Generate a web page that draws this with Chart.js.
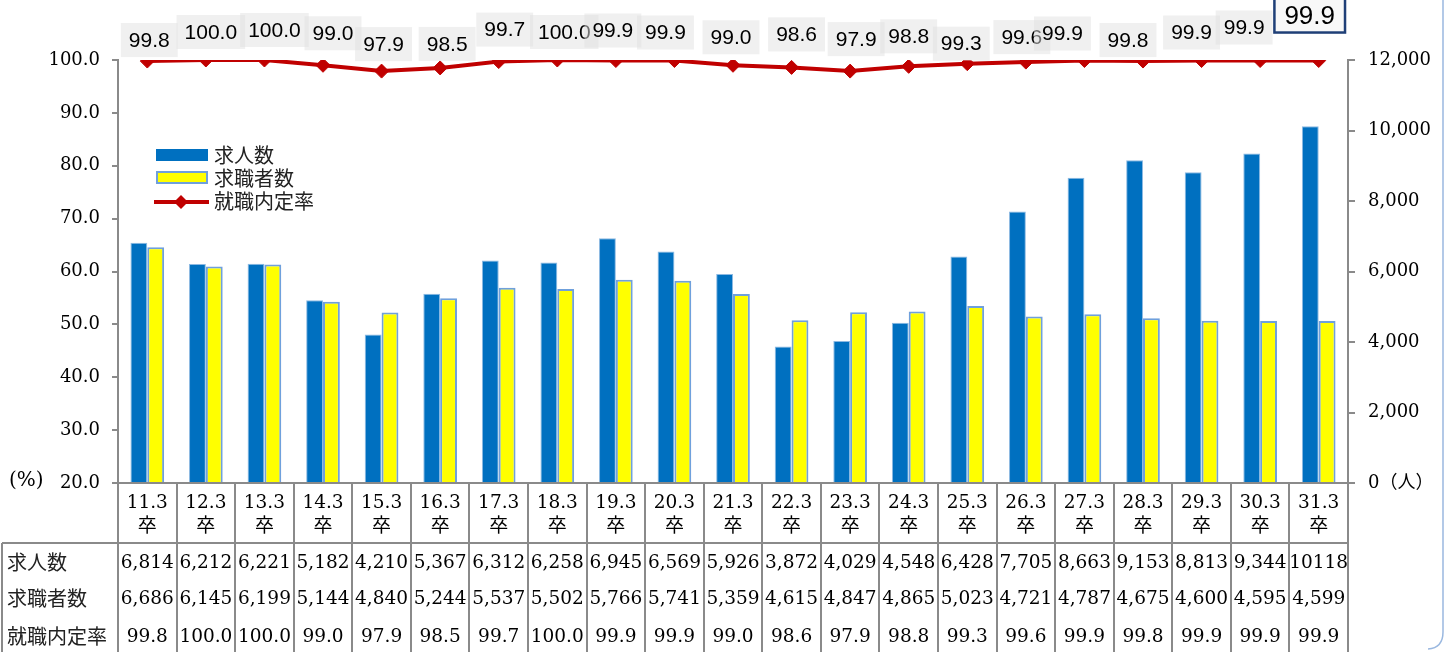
<!DOCTYPE html>
<html>
<head>
<meta charset="utf-8">
<script src="https://cdn.jsdelivr.net/npm/chart.js@4.4.0/dist/chart.umd.min.js"></script>
<style>
  html, body { margin: 0; padding: 0; background: #fff; }
  #wrap { width: 1448px; height: 652px; position: relative; }
</style>
</head>
<body>
<div id="wrap"><canvas id="chart" width="1448" height="652"></canvas></div>
<script>
// Data
var categories = ['11.3', '12.3', '13.3', '14.3', '15.3', '16.3', '17.3', '18.3', '19.3', '20.3', '21.3',
                  '22.3', '23.3', '24.3', '25.3', '26.3', '27.3', '28.3', '29.3', '30.3', '31.3'];
var jobOffers = [6814, 6212, 6221, 5182, 4210, 5367, 6312, 6258, 6945, 6569, 5926,
                 3872, 4029, 4548, 6428, 7705, 8663, 9153, 8813, 9344, 10118];
var jobSeekers = [6686, 6145, 6199, 5144, 4840, 5244, 5537, 5502, 5766, 5741, 5359,
                  4615, 4847, 4865, 5023, 4721, 4787, 4675, 4600, 4595, 4599];
var offerRate = [99.8, 100.0, 100.0, 99.0, 97.9, 98.5, 99.7, 100.0, 99.9, 99.9, 99.0,
                 98.6, 97.9, 98.8, 99.3, 99.6, 99.9, 99.8, 99.9, 99.9, 99.9];
var leftTicks = [20, 30, 40, 50, 60, 70, 80, 90, 100];
var rightTicks = [0, 2000, 4000, 6000, 8000, 10000, 12000];

// label nudges (px) so the rate labels sit like in the original
var labelShift = [[2, -21], [5, -28], [10, -30], [10, -32], [2, -27], [7, -24], [6, -32], [7, -28],
                  [-3, -30], [-9, -28], [-2, -28], [5, -33], [6, -32], [0, -30], [-6, -20], [-4, -25],
                  [-22, -27], [-15, -21], [-10, -28], [-16, -33], [-9, -45]];

var SERIF = '"DejaVu Serif", serif';
var JP = '"Noto Sans CJK JP", sans-serif';
var GRID = '#8a8a8a';

function fmtNum(n) {
    // the original table squeezes 10118 without a separator
    return n >= 10000 ? String(n) : n.toLocaleString('en-US');
}

// Rate labels with grey boxes
var rateLabels = {
    id: 'rateLabels',
    afterDatasetsDraw: function(chart) {
        var ctx = chart.ctx;
        var meta = chart.getDatasetMeta(0);
        ctx.save();
        ctx.textAlign = 'center';
        ctx.textBaseline = 'middle';
        meta.data.forEach(function(pt, i) {
            var last = i === meta.data.length - 1;
            var txt = offerRate[i].toFixed(1);
            var cx = pt.x + labelShift[i][0];
            var cy = pt.y + labelShift[i][1];
            ctx.font = (last ? '26px' : '21px') + ' "Liberation Sans", Arial, sans-serif';
            var w = ctx.measureText(txt).width + (last ? 20 : 16);
            var h = 34;
            if (last) {
                ctx.fillStyle = '#f8f8f8';
                ctx.fillRect(cx - w / 2, cy - h / 2, w, h);
                ctx.strokeStyle = '#1f3f77';
                ctx.lineWidth = 2.5;
                ctx.strokeRect(cx - w / 2, cy - h / 2, w, h);
            } else {
                ctx.fillStyle = 'rgba(225,225,225,0.5)';
                ctx.fillRect(cx - w / 2, cy - h / 2, w, h);
            }
            ctx.fillStyle = '#000';
            ctx.fillText(txt, cx, cy + 1);
        });
        ctx.restore();
    }
};

// Data table, legend, unit labels and frame
var tableAndLegend = {
    id: 'tableAndLegend',
    afterDraw: function(chart) {
        var ctx = chart.ctx;
        var x = chart.scales.x;
        var area = chart.chartArea;
        var catW = x.getPixelForValue(1) - x.getPixelForValue(0);
        var top = area.bottom;
        var headBottom = top + 60;
        var bottom = 652;
        ctx.save();

        // grid of the table
        ctx.strokeStyle = GRID;
        ctx.lineWidth = 2;
        ctx.beginPath();
        for (var i = 0; i <= categories.length; i++) {
            var bx = Math.round(x.getPixelForValue(0) - catW / 2 + i * catW);
            ctx.moveTo(bx, top);
            ctx.lineTo(bx, bottom);
        }
        ctx.moveTo(2, headBottom);
        ctx.lineTo(area.right, headBottom);
        ctx.moveTo(2, headBottom);
        ctx.lineTo(2, bottom);
        ctx.stroke();

        // header: category labels
        ctx.fillStyle = '#000';
        ctx.textAlign = 'center';
        ctx.textBaseline = 'middle';
        categories.forEach(function(c, i) {
            var cx = x.getPixelForValue(i);
            ctx.font = '18.5px ' + SERIF;
            ctx.fillText(c, cx, top + 20);
            ctx.font = '19px ' + JP;
            ctx.fillText('卒', cx, top + 42);
        });

        // rows
        var rows = [
            { name: '求人数', y: 562, vals: jobOffers.map(fmtNum) },
            { name: '求職者数', y: 598, vals: jobSeekers.map(fmtNum) },
            { name: '就職内定率', y: 636, vals: offerRate.map(function(v) { return v.toFixed(1); }) }
        ];
        rows.forEach(function(r) {
            ctx.textAlign = 'left';
            ctx.font = '20px ' + JP;
            ctx.fillStyle = '#222';
            ctx.fillText(r.name, 7, r.y);
            ctx.textAlign = 'center';
            ctx.font = '18.5px ' + SERIF;
            ctx.fillStyle = '#000';
            r.vals.forEach(function(v, i) {
                ctx.fillText(v, x.getPixelForValue(i), r.y + 1);
            });
        });

        // (%) unit on the left axis
        ctx.textAlign = 'left';
        ctx.font = '20px ' + SERIF;
        ctx.fillText('(%)', 9, top - 2);

        // legend
        ctx.fillStyle = '#0070c0';
        ctx.fillRect(156, 149, 52, 12);
        ctx.fillStyle = '#ffff00';
        ctx.fillRect(157, 172, 50, 11);
        ctx.strokeStyle = '#6fa0dc';
        ctx.lineWidth = 2;
        ctx.strokeRect(157, 172, 50, 11);
        ctx.strokeStyle = '#c00000';
        ctx.lineWidth = 4;
        ctx.beginPath();
        ctx.moveTo(154, 202);
        ctx.lineTo(209, 202);
        ctx.stroke();
        ctx.fillStyle = '#c00000';
        ctx.beginPath();
        ctx.moveTo(181, 195);
        ctx.lineTo(188, 202);
        ctx.lineTo(181, 209);
        ctx.lineTo(174, 202);
        ctx.closePath();
        ctx.fill();
        ctx.fillStyle = '#222';
        ctx.font = '20px ' + JP;
        ctx.fillText('求人数', 214, 155);
        ctx.fillText('求職者数', 214, 178);
        ctx.fillText('就職内定率', 214, 201);

        // light frame on the right edge
        ctx.strokeStyle = '#9ab8e0';
        ctx.lineWidth = 1.5;
        ctx.beginPath();
        ctx.moveTo(1443, 0);
        ctx.lineTo(1443, 632);
        ctx.quadraticCurveTo(1443, 648, 1428, 649);
        ctx.stroke();
        ctx.restore();
    }
};

var ctx = document.getElementById('chart').getContext('2d');
new Chart(ctx, {
    type: 'bar',
    data: {
        labels: categories,
        datasets: [{
            type: 'line',
            label: '就職内定率',
            data: offerRate,
            yAxisID: 'y',
            borderColor: '#c00000',
            backgroundColor: '#c00000',
            borderWidth: 4,
            pointStyle: 'rectRot',
            pointRadius: 7,
            pointBorderWidth: 1,
            tension: 0,
            order: 0
        }, {
            label: '求人数',
            data: jobOffers,
            yAxisID: 'y1',
            backgroundColor: '#0070c0',
            borderColor: 'rgba(91,155,213,0.7)',
            borderWidth: 1,
            categoryPercentage: 0.575,
            barPercentage: 1,
            order: 1
        }, {
            label: '求職者数',
            data: jobSeekers,
            yAxisID: 'y1',
            backgroundColor: '#ffff00',
            borderColor: '#6fa0dc',
            borderWidth: 2,
            categoryPercentage: 0.575,
            barPercentage: 1,
            order: 2
        }]
    },
    options: {
        responsive: false,
        animation: false,
        layout: { padding: { top: 60, left: 0, right: 0, bottom: 0 } },
        plugins: {
            legend: { display: false },
            tooltip: { enabled: false }
        },
        scales: {
            x: {
                grid: { display: false },
                ticks: { display: false },
                border: { display: true, color: GRID, width: 2 },
                afterFit: function(scale) { scale.height = 169; }
            },
            y: {
                position: 'left',
                min: 20,
                max: 100,
                afterBuildTicks: function(scale) {
                    scale.ticks = leftTicks.map(function(v) { return { value: v }; });
                },
                ticks: {
                    color: '#000',
                    padding: 12,
                    font: { family: 'DejaVu Serif', size: 18 },
                    callback: function(v) { return Number(v).toFixed(1); }
                },
                grid: { drawOnChartArea: false, color: GRID, tickLength: 6, lineWidth: 2 },
                border: { color: GRID, width: 2 },
                afterFit: function(scale) { scale.width = 118; }
            },
            y1: {
                position: 'right',
                min: 0,
                max: 12000,
                afterBuildTicks: function(scale) {
                    scale.ticks = rightTicks.map(function(v) { return { value: v }; });
                },
                ticks: {
                    color: '#000',
                    padding: 13,
                    font: { family: 'DejaVu Serif, Noto Sans CJK JP', size: 18 },
                    callback: function(v) { return v === 0 ? '0（人）' : Number(v).toLocaleString('en-US'); }
                },
                grid: { drawOnChartArea: false, color: GRID, tickLength: 7, lineWidth: 2 },
                border: { color: GRID, width: 2 },
                afterFit: function(scale) { scale.width = 100; }
            }
        }
    },
    plugins: [rateLabels, tableAndLegend]
});
</script>
</body>
</html>
